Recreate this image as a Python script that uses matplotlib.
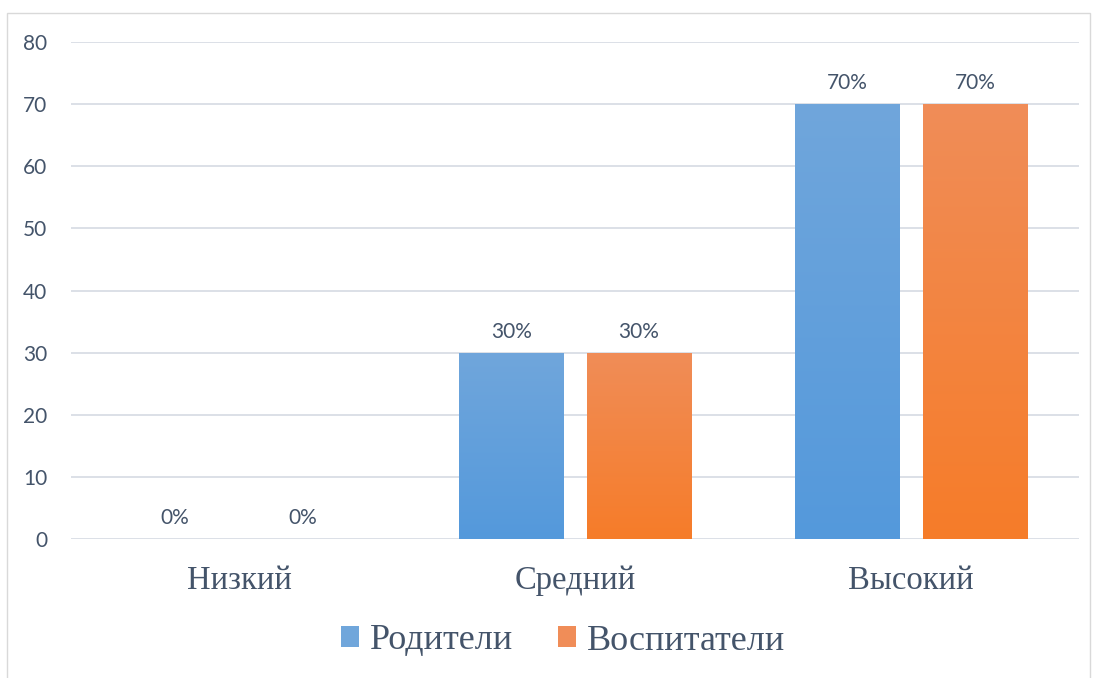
import numpy as np
import matplotlib.pyplot as plt
from matplotlib.colors import LinearSegmentedColormap
from matplotlib.patches import Rectangle

categories = ['Низкий', 'Средний', 'Высокий']
parents = [0, 30, 70]
teachers = [0, 30, 70]
series_names = ['Родители', 'Воспитатели']
yticks = [0, 10, 20, 30, 40, 50, 60, 70, 80]

text_color = '#44546A'
grid_color = '#D9DDE5'
grads = [('#70A6DB', '#5499DC'), ('#F08D58', '#F67C29')]

fig = plt.figure(figsize=(10.97, 6.78), dpi=100)
ax = fig.add_axes([0.0647, 0.205, 0.919, 0.733])

x = np.arange(len(categories))
w = 0.31
off = 0.19

# bars with vertical gradient (per bar)
for vals, sign, (top, bot) in zip([parents, teachers], [-1, 1], grads):
    cmap = LinearSegmentedColormap.from_list('g', [bot, top])
    bars = ax.bar(x + sign * off, vals, width=w, color=bot, zorder=2)
    for b, v in zip(bars, vals):
        if v > 0:
            x0, y0 = b.get_x(), b.get_y()
            im = ax.imshow(np.linspace(0, 1, 256).reshape(-1, 1), cmap=cmap,
                           origin='lower', aspect='auto', zorder=3,
                           extent=[x0, x0 + b.get_width(), y0, y0 + b.get_height()])
            im.set_clip_path(b)
        ax.annotate(f'{v}%', (b.get_x() + b.get_width() / 2, v), xytext=(0, 15),
                    textcoords='offset points', ha='center', va='center',
                    fontsize=15, color=text_color, family='Lato')

ax.set_xlim(-0.5, 2.5)
ax.set_ylim(0, 80)
ax.set_yticks(yticks)
ax.set_xticks(x)
ax.set_xticklabels(categories, family='Liberation Serif', fontsize=23.5, color=text_color)
for t in ax.get_yticklabels():
    t.set_family('Lato')
    t.set_fontsize(15)
    t.set_color(text_color)
ax.tick_params(axis='y', length=0, pad=17)
ax.tick_params(axis='x', length=0, pad=19)
ax.grid(axis='y', color=grid_color, lw=1.3, zorder=0)
ax.set_axisbelow(True)
for s in ax.spines.values():
    s.set_visible(False)

handles = [Rectangle((0, 0), 1, 1, facecolor=c[0]) for c in grads]
leg = fig.legend(handles, series_names, loc='center', ncol=2, frameon=False,
                 bbox_to_anchor=(563 / 1097, 1 - 641 / 678),
                 prop={'family': 'Liberation Serif', 'size': 26},
                 handlelength=0.5, handleheight=0.5, handletextpad=0.3,
                 columnspacing=1.25)
for t in leg.get_texts():
    t.set_color(text_color)

fig.patches.append(Rectangle((7 / 1097, -0.1), (1090 - 7) / 1097, 1.1 - 13 / 678,
                             transform=fig.transFigure, fill=False,
                             edgecolor='#D9D9D9', lw=1))

fig.savefig('out.png', dpi=100)
